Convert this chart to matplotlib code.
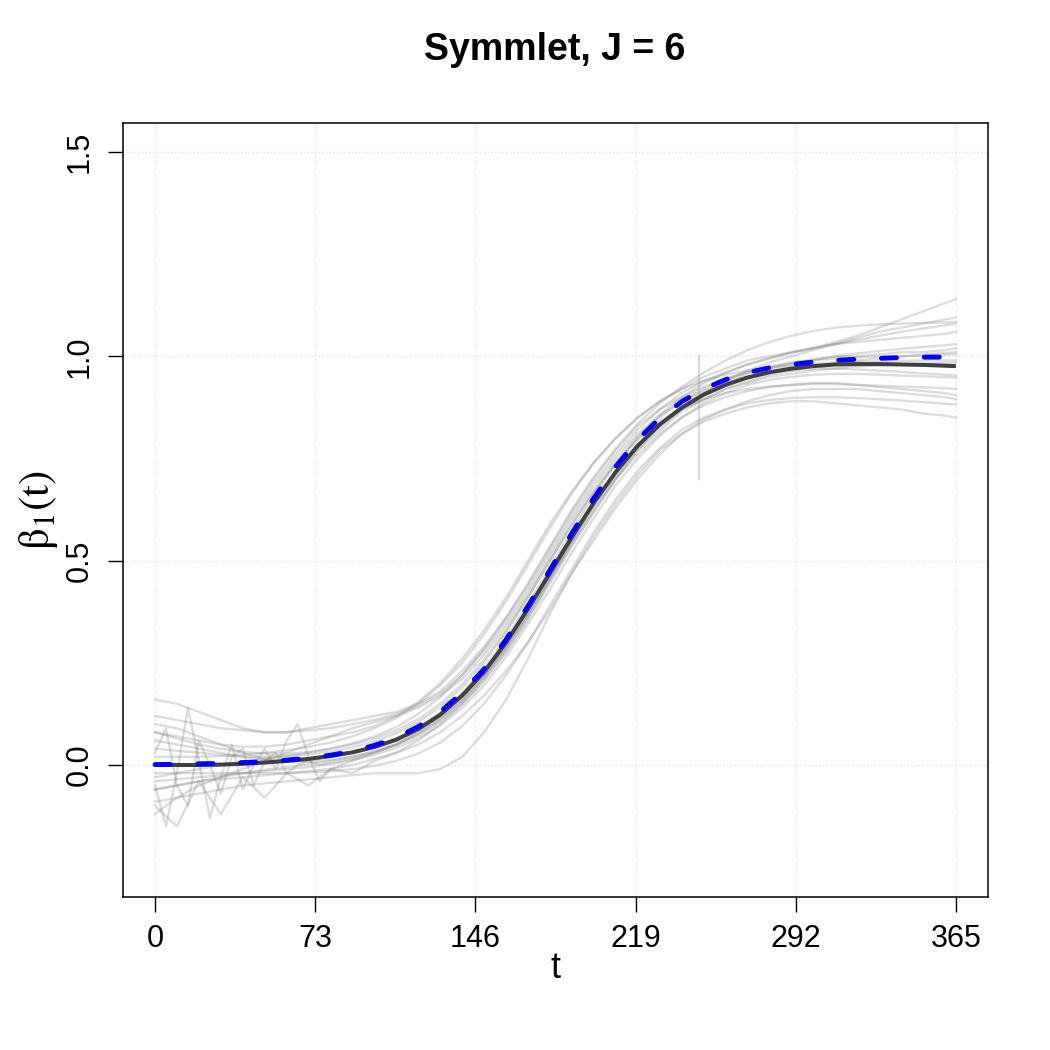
import matplotlib.pyplot as plt

plt.rcParams["font.family"] = ["Liberation Sans", "DejaVu Sans"]
plt.rcParams["mathtext.fontset"] = "stix"

# ==========================================================
# Data
# ==========================================================

t_grid = [0, 10, 20, 30, 40, 50, 60, 70, 80, 90, 100, 110, 120, 130, 140, 150,
          160, 170, 180, 190, 200, 210, 220, 230, 240, 250, 260, 270, 280, 290,
          300, 310, 320, 330, 340, 350, 360, 365]

true_beta = [0.001, 0.002, 0.003, 0.004, 0.006, 0.008, 0.012, 0.017, 0.024, 0.034,
             0.048, 0.067, 0.094, 0.130, 0.177, 0.235, 0.307, 0.389, 0.477, 0.567,
             0.653, 0.730, 0.796, 0.848, 0.889, 0.920, 0.943, 0.960, 0.972, 0.980,
             0.986, 0.990, 0.993, 0.995, 0.997, 0.998, 0.998, 0.999]

mean_est = [0.000, 0.000, 0.000, 0.001, 0.003, 0.006, 0.010, 0.015, 0.022, 0.031,
            0.044, 0.062, 0.088, 0.123, 0.170, 0.228, 0.300, 0.382, 0.470, 0.558,
            0.642, 0.717, 0.781, 0.833, 0.874, 0.906, 0.930, 0.948, 0.961, 0.970,
            0.976, 0.980, 0.981, 0.981, 0.980, 0.979, 0.977, 0.976]

rep_01 = [0.08, 0.07, 0.06, 0.05, 0.045, 0.045, 0.05, 0.06, 0.07, 0.08, 0.095, 0.12, 0.155,
          0.20, 0.26, 0.33, 0.41, 0.50, 0.59, 0.67, 0.74, 0.80, 0.85, 0.89, 0.92, 0.95,
          0.97, 0.99, 1.00, 1.01, 1.02, 1.03, 1.035, 1.04, 1.045, 1.05, 1.055, 1.06]
rep_02 = [-0.06, -0.05, -0.04, -0.035, -0.03, -0.025, -0.02, -0.015, -0.01, 0.0, 0.015,
          0.03, 0.05, 0.08, 0.12, 0.17, 0.23, 0.30, 0.38, 0.47, 0.55, 0.63, 0.70, 0.76,
          0.81, 0.845, 0.87, 0.89, 0.905, 0.915, 0.92, 0.92, 0.92, 0.915, 0.91, 0.905, 0.90, 0.895]
rep_03 = [0.16, 0.15, 0.13, 0.11, 0.09, 0.08, 0.08, 0.09, 0.10, 0.11, 0.12, 0.13, 0.15, 0.18,
          0.23, 0.29, 0.36, 0.44, 0.53, 0.62, 0.70, 0.77, 0.83, 0.87, 0.90, 0.925, 0.945,
          0.96, 0.97, 0.98, 0.99, 1.0, 1.0, 1.005, 1.01, 1.01, 1.015, 1.02]
rep_04 = [-0.10, -0.15, -0.04, -0.12, -0.03, -0.08, -0.02, -0.05, -0.01, -0.02, 0.01, 0.03,
          0.06, 0.10, 0.15, 0.21, 0.28, 0.36, 0.45, 0.54, 0.62, 0.70, 0.76, 0.81, 0.85, 0.88,
          0.90, 0.915, 0.925, 0.93, 0.935, 0.935, 0.93, 0.925, 0.92, 0.915, 0.91, 0.905]
rep_05 = [0.12, 0.11, 0.10, 0.09, 0.085, 0.08, 0.08, 0.085, 0.09, 0.10, 0.11, 0.125, 0.145,
          0.175, 0.22, 0.28, 0.35, 0.43, 0.52, 0.61, 0.69, 0.76, 0.82, 0.87, 0.91, 0.94, 0.96,
          0.98, 0.995, 1.01, 1.02, 1.035, 1.05, 1.07, 1.09, 1.11, 1.13, 1.14]
rep_06 = [-0.09, -0.08, -0.07, -0.06, -0.05, -0.045, -0.04, -0.035, -0.03, -0.025, -0.02,
          -0.02, -0.02, -0.01, 0.02, 0.08, 0.16, 0.26, 0.37, 0.47, 0.56, 0.64, 0.71, 0.77,
          0.81, 0.84, 0.86, 0.875, 0.885, 0.89, 0.89, 0.885, 0.88, 0.875, 0.87, 0.86, 0.855, 0.85]
rep_07 = [0.04, 0.035, 0.03, 0.025, 0.02, 0.02, 0.022, 0.026, 0.033, 0.043, 0.058, 0.078,
          0.105, 0.142, 0.19, 0.25, 0.325, 0.41, 0.50, 0.59, 0.67, 0.74, 0.80, 0.85, 0.89,
          0.92, 0.945, 0.962, 0.975, 0.985, 0.99, 0.995, 0.998, 1.0, 1.0, 1.002, 1.004, 1.005]
rep_08 = [-0.04, -0.035, -0.03, -0.025, -0.02, -0.015, -0.01, -0.005, 0.002, 0.012, 0.025,
          0.042, 0.065, 0.097, 0.14, 0.195, 0.265, 0.345, 0.43, 0.52, 0.605, 0.685, 0.75,
          0.805, 0.85, 0.885, 0.91, 0.93, 0.942, 0.95, 0.955, 0.957, 0.957, 0.955, 0.953,
          0.951, 0.949, 0.948]
rep_09 = [0.10, 0.09, 0.07, 0.05, 0.03, 0.015, 0.01, 0.012, 0.02, 0.03, 0.045, 0.065, 0.092,
          0.128, 0.176, 0.236, 0.31, 0.394, 0.484, 0.574, 0.66, 0.737, 0.803, 0.857, 0.90,
          0.934, 0.96, 0.98, 0.995, 1.008, 1.02, 1.03, 1.04, 1.05, 1.06, 1.068, 1.076, 1.08]
rep_10 = [-0.12, -0.08, -0.05, -0.03, -0.01, 0.01, 0.03, 0.05, 0.07, 0.09, 0.105, 0.12, 0.14,
          0.17, 0.21, 0.27, 0.34, 0.42, 0.51, 0.60, 0.68, 0.75, 0.81, 0.855, 0.89, 0.915,
          0.935, 0.95, 0.96, 0.965, 0.97, 0.97, 0.968, 0.965, 0.962, 0.958, 0.955, 0.953]
rep_11 = [0.06, 0.05, 0.04, 0.03, 0.02, 0.012, 0.008, 0.008, 0.012, 0.02, 0.032, 0.048,
          0.072, 0.105, 0.148, 0.205, 0.275, 0.355, 0.445, 0.535, 0.62, 0.70, 0.77, 0.83,
          0.875, 0.91, 0.94, 0.965, 0.985, 1.0, 1.015, 1.03, 1.045, 1.06, 1.07, 1.08, 1.09, 1.095]
rep_12 = [-0.02, -0.02, -0.02, -0.02, -0.02, -0.02, -0.02, -0.018, -0.015, -0.01, -0.002,
          0.01, 0.028, 0.055, 0.095, 0.15, 0.22, 0.30, 0.39, 0.48, 0.57, 0.65, 0.72, 0.775,
          0.82, 0.85, 0.87, 0.885, 0.893, 0.898, 0.90, 0.90, 0.898, 0.895, 0.892, 0.888,
          0.884, 0.882]
rep_13 = [0.02, 0.02, 0.02, 0.022, 0.025, 0.03, 0.036, 0.044, 0.055, 0.07, 0.09, 0.115, 0.15,
          0.195, 0.25, 0.32, 0.40, 0.49, 0.58, 0.665, 0.74, 0.80, 0.85, 0.89, 0.92, 0.94,
          0.955, 0.965, 0.972, 0.978, 0.982, 0.985, 0.987, 0.988, 0.989, 0.99, 0.99, 0.99]
rep_14 = [-0.06, -0.05, -0.04, -0.03, -0.02, -0.012, -0.005, 0.002, 0.01, 0.02, 0.034,
          0.052, 0.078, 0.112, 0.158, 0.216, 0.288, 0.37, 0.458, 0.548, 0.634, 0.712, 0.778,
          0.832, 0.876, 0.91, 0.937, 0.957, 0.972, 0.984, 0.993, 1.0, 1.007, 1.013, 1.018,
          1.023, 1.027, 1.03]
rep_15 = [0.08, 0.065, 0.05, 0.04, 0.032, 0.028, 0.028, 0.032, 0.04, 0.05, 0.065, 0.085,
          0.112, 0.15, 0.198, 0.258, 0.33, 0.412, 0.50, 0.587, 0.668, 0.738, 0.795, 0.84,
          0.872, 0.895, 0.91, 0.92, 0.926, 0.93, 0.932, 0.932, 0.93, 0.928, 0.926, 0.924,
          0.922, 0.92]
rep_16 = [-0.03, -0.02, -0.01, 0.0, 0.008, 0.015, 0.022, 0.03, 0.04, 0.053, 0.07, 0.093,
          0.125, 0.166, 0.22, 0.285, 0.36, 0.445, 0.535, 0.625, 0.705, 0.775, 0.835, 0.885,
          0.925, 0.96, 0.99, 1.015, 1.035, 1.05, 1.062, 1.07, 1.075, 1.078, 1.08, 1.082,
          1.083, 1.084]

# wiggly replicates (finer grid near the start)
t_wiggle = [0, 5, 10, 15, 20, 25, 30, 35, 40, 45, 50, 55, 60, 65, 70, 75, 80, 90, 100,
            110, 120, 130, 140, 150, 160, 170, 180, 190, 200, 220, 240, 260, 280, 300,
            320, 340, 365]
wig_01 = [-0.05, -0.15, -0.02, 0.14, 0.01, -0.13, -0.03, 0.05, -0.06, 0.0, 0.04, -0.01,
          0.06, 0.10, 0.02, -0.04, -0.01, 0.01, 0.03, 0.05, 0.08, 0.115, 0.16, 0.22, 0.29,
          0.37, 0.46, 0.55, 0.64, 0.78, 0.87, 0.92, 0.95, 0.965, 0.975, 0.98, 0.985]
wig_02 = [0.03, 0.09, -0.05, -0.10, 0.06, 0.0, -0.07, 0.02, 0.04, -0.05, 0.01, 0.03, -0.02,
          0.0, 0.01, 0.0, 0.005, 0.015, 0.03, 0.05, 0.075, 0.11, 0.155, 0.215, 0.285, 0.365,
          0.455, 0.545, 0.63, 0.77, 0.865, 0.92, 0.955, 0.975, 0.99, 1.0, 1.01]

# one replicate has a jump around t = 248
spike_t = [248, 248]
spike_y = [0.70, 1.00]

grid_reps = [rep_01, rep_02, rep_03, rep_04, rep_05, rep_06, rep_07, rep_08,
             rep_09, rep_10, rep_11, rep_12, rep_13, rep_14, rep_15, rep_16]
wiggle_reps = [wig_01, wig_02]

x_ticks = [0, 73, 146, 219, 292, 365]
y_ticks = [0.0, 0.5, 1.0, 1.5]
y_ticklabels = ["0.0", "0.5", "1.0", "1.5"]

# ==========================================================
# Plot
# ==========================================================

fig = plt.figure(figsize=(10.5, 10.5), dpi=100)
ax = fig.add_axes([0.1171, 0.1457, 0.8238, 0.7372])

rep_style = dict(color="#7a7a7a", alpha=0.26, linewidth=1.7)
for rep in grid_reps:
    ax.plot(t_grid, rep, **rep_style)
for rep in wiggle_reps:
    ax.plot(t_wiggle, rep, **rep_style)
ax.plot(spike_t, spike_y, **rep_style)

ax.plot(t_grid, mean_est, color="#404040", linewidth=2.9, solid_capstyle="butt")
ax.plot(t_grid, true_beta, color="#0000ff", linewidth=3.5,
        dashes=(3.1, 5.7), dash_capstyle="round")

ax.set_xlim(-14.6, 379.6)
ax.set_ylim(-0.323, 1.571)
ax.set_xticks(x_ticks)
ax.set_yticks(y_ticks)
ax.set_yticklabels(y_ticklabels, rotation=90, va="center")
ax.tick_params(axis="both", direction="out", length=10.8, width=1.0,
               labelsize=22, color="black")
ax.tick_params(axis="x", pad=8.5)
ax.tick_params(axis="y", pad=9.5)

ax.grid(True, linestyle=":", color="#e4e4e4", linewidth=1.0)
ax.set_axisbelow(True)
for side in ax.spines.values():
    side.set_linewidth(1.1)

ax.set_xlabel("t", fontsize=26, va="center")
ax.xaxis.set_label_coords(0.5, -0.092)
ax.set_ylabel(r"$\mathrm{\beta_1(t)}$", fontsize=31, va="center")
ax.yaxis.set_label_coords(-0.098, 0.50)

fig.text(0.5285, 1 - 50 / 1050, "Symmlet, J = 6", fontsize=27, fontweight="bold",
         ha="center", va="center")

fig.savefig("out.png", dpi=100)
